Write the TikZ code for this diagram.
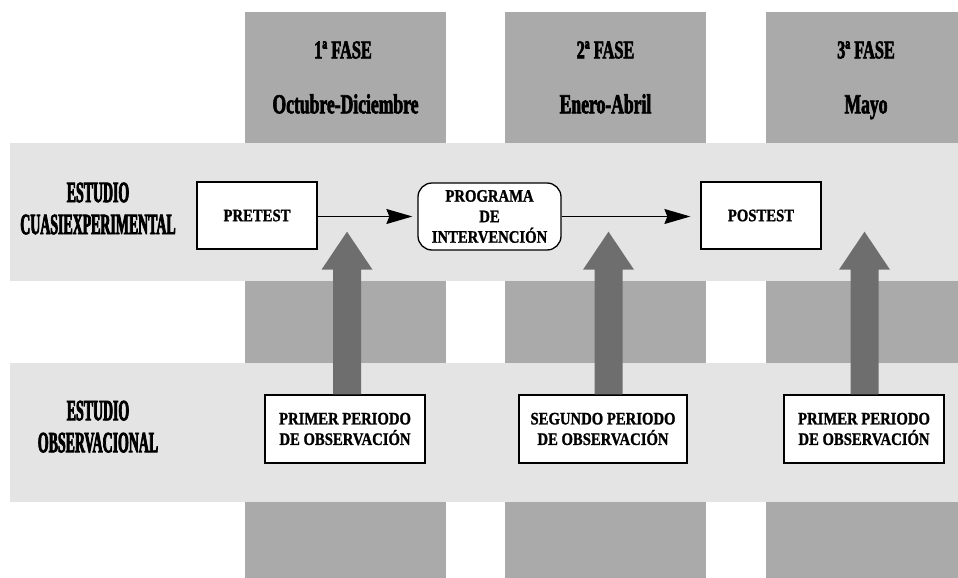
\documentclass[tikz,border=0pt]{standalone}
\usepackage{fontspec}
\setmainfont{Liberation Serif}
\newfontfamily\headfont{Liberation Serif Bold}[FakeStretch=0.64, FakeBold=2.2]
\newfontfamily\labfont{Liberation Serif Bold}[FakeStretch=0.47, FakeBold=2.5]
\newfontfamily\boxfont{Liberation Serif Bold}[FakeStretch=0.84, FakeBold=1.2]
\usetikzlibrary{arrows.meta,calc}
\definecolor{colgray}{RGB}{170,170,170}
\definecolor{bandgray}{RGB}{228,228,228}
\definecolor{arrowgray}{RGB}{110,110,110}
\tikzset{
  colrect/.style={fill=colgray},
  bandrect/.style={fill=bandgray},
  headtxt/.style={anchor=base, inner sep=0pt, font=\headfont\fontsize{25.5}{28}\selectfont},
  pertxt/.style={anchor=base, inner sep=0pt, font=\headfont\fontsize{27.5}{30}\selectfont},
  studytxt/.style={inner sep=0pt, align=center, font=\labfont\fontsize{29.5}{32}\selectfont},
  boxnode/.style={draw=black, line width=1.3pt, fill=white, inner sep=0pt, align=center,
     font=\boxfont\fontsize{17.5}{20.5}\selectfont},
  thinarrow/.style={line width=1pt, -{Stealth[length=26pt,width=15pt,inset=3pt]}},
  bigarrow/.style={fill=arrowgray}
}
\newcommand\bigup[2]{% #1 tip coordinate, #2 box
  \fill[bigarrow] ($(#1 |- #2.north)+(-14,0)$) -- ($(#1)+(-14,38)$) -- ($(#1)+(-25.5,38)$)
     -- (#1) -- ($(#1)+(25.5,38)$) -- ($(#1)+(14,38)$) -- ($(#1 |- #2.north)+(14,0)$) -- cycle;}
\begin{document}
\begin{tikzpicture}[x=1pt,y=-1pt]
\useasboundingbox (0,0) rectangle (958,578);
\fill[white] (0,0) rectangle (958,578);
% phase columns
\fill[colrect] (245,12) rectangle (446,578);
\fill[colrect] (505,12) rectangle (706,578);
\fill[colrect] (766,12) rectangle (958,578);
% study bands
\fill[bandrect] (10,143) rectangle (958,281);
\fill[bandrect] (10,363) rectangle (958,502);
% column headings
\node[headtxt] (f1) at (343,58.3) {1ª FASE};
\node[pertxt] (p1) at (345.5,113.3) {Octubre-Diciembre};
\node[headtxt] (f2) at (605.5,58.3) {2ª FASE};
\node[pertxt] (p2) at (605.5,113.3) {Enero-Abril};
\node[headtxt] (f3) at (866,58.3) {3ª FASE};
\node[pertxt] (p3) at (866,113.3) {Mayo};
% row labels
\node[studytxt] (s1) at (98,208.5) {ESTUDIO\\CUASIEXPERIMENTAL};
\node[studytxt] (s2) at (98,426.7) {ESTUDIO\\OBSERVACIONAL};
% tip coordinates of the big arrows
\coordinate (t1) at (347,231.7);
\coordinate (t2) at (608.5,231.7);
\coordinate (t3) at (864.5,231.7);
% observation boxes
\node[boxnode, minimum width=160pt, minimum height=68pt] (o1) at (345,429) {PRIMER PERIODO\\DE OBSERVACIÓN};
\node[boxnode, minimum width=168pt, minimum height=68pt] (o2) at (603,429) {SEGUNDO PERIODO\\DE OBSERVACIÓN};
\node[boxnode, minimum width=160pt, minimum height=68pt] (o3) at (864,429) {PRIMER PERIODO\\DE OBSERVACIÓN};
\bigup{t1}{o1}
\bigup{t2}{o2}
\bigup{t3}{o3}
% quasi-experimental boxes
\node[boxnode, minimum width=120pt, minimum height=67pt] (pre) at (257,215.5) {PRETEST};
\node[boxnode, rounded corners=14pt, minimum width=143pt, minimum height=67pt] (prog) at (489.5,216.5) {PROGRAMA\\DE\\INTERVENCIÓN};
\node[boxnode, minimum width=120pt, minimum height=67pt] (post) at (761,215.5) {POSTEST};
\draw[thinarrow, shorten >=5pt] (prog.west -| pre.east) -- (prog.west);
\draw[thinarrow, shorten >=10pt] (prog.east) -- (prog.east -| post.west);
\end{tikzpicture}
\end{document}
